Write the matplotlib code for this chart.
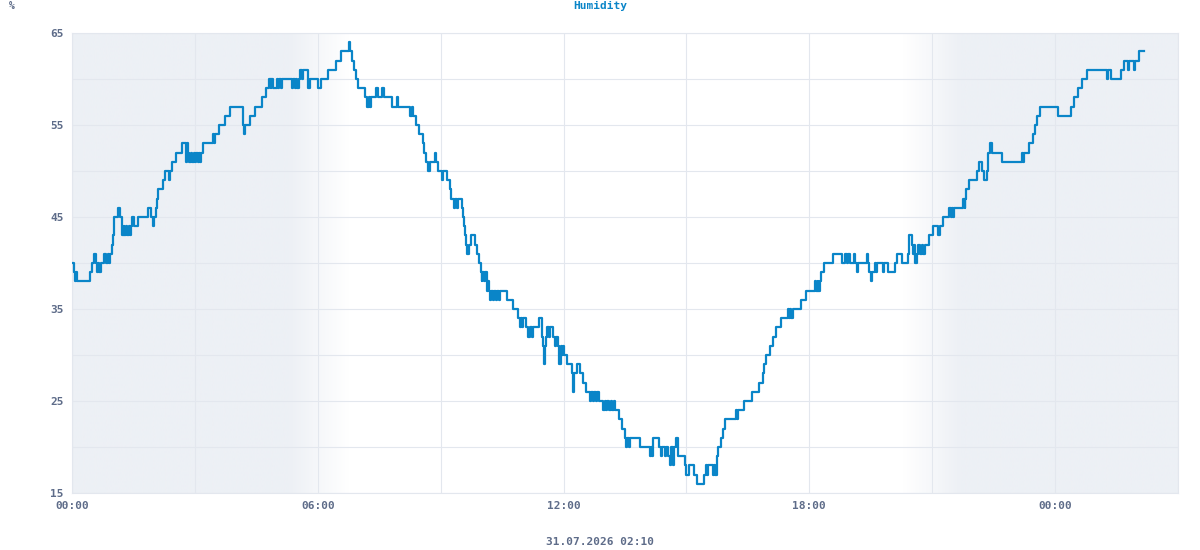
import numpy as np
import matplotlib
matplotlib.use("Agg")
import matplotlib.pyplot as plt
from matplotlib.colors import to_rgb

# ---- data (hours since 00:00, humidity %) ----
hours = [
    0.00, 0.04, 0.07, 0.09, 0.11, 0.44, 0.50, 0.53, 0.58, 0.60, 0.64, 0.66, 0.72, 0.79, 0.84, 0.87, 0.90, 0.93,
    0.97, 1.00, 1.02, 1.13, 1.18, 1.21, 1.23, 1.26, 1.28, 1.31, 1.34, 1.38, 1.41, 1.44, 1.47, 1.52, 1.62, 1.86,
    1.93, 1.98, 2.01, 2.04, 2.08, 2.11, 2.21, 2.27, 2.37, 2.40, 2.43, 2.55, 2.68, 2.78, 2.80, 2.82, 2.86, 2.90,
    2.93, 2.97, 3.00, 3.03, 3.07, 3.10, 3.13, 3.16, 3.21, 3.44, 3.47, 3.49, 3.60, 3.74, 3.86, 4.18, 4.20, 4.22,
    4.35, 4.47,
    4.65, 4.74, 4.82, 4.85, 4.87, 4.90, 5.00, 5.03, 5.06, 5.09, 5.12, 5.36, 5.40, 5.44, 5.47, 5.50, 5.53, 5.57,
    5.62, 5.64, 5.75, 5.77, 5.81, 6.01, 6.07, 6.26, 6.45, 6.56, 6.75, 6.79, 6.83, 6.88, 6.93, 6.99, 7.15, 7.21,
    7.24, 7.27, 7.30, 7.42, 7.47, 7.56, 7.62, 7.80, 7.93, 7.97, 8.25, 8.29, 8.33, 8.40, 8.47,
    8.58, 8.60, 8.64, 8.70, 8.74, 8.85, 8.89, 8.94, 9.03, 9.06, 9.16, 9.23, 9.25, 9.33, 9.36, 9.40, 9.43, 9.51,
    9.55, 9.57, 9.59, 9.61, 9.64, 9.70, 9.73, 9.84, 9.88, 9.94, 9.98, 10.00, 10.02, 10.06, 10.08, 10.12, 10.15,
    10.18, 10.21, 10.24, 10.28, 10.31, 10.35, 10.38, 10.42, 10.45, 10.63, 10.76, 10.90, 10.93, 10.96, 10.99,
    11.02, 11.08, 11.13, 11.17, 11.22, 11.25, 11.41, 11.47, 11.49, 11.52, 11.55, 11.57, 11.60, 11.64, 11.67,
    11.74, 11.78, 11.81, 11.87, 11.90, 11.93, 11.96, 11.99, 12.02, 12.08, 12.20, 12.23, 12.25, 12.32, 12.40,
    12.48, 12.54, 12.65, 12.68, 12.71, 12.75, 12.79, 12.82, 12.86,
    12.97, 13.00, 13.04, 13.07, 13.11, 13.15, 13.19, 13.22, 13.26, 13.36, 13.42, 13.50, 13.53, 13.56, 13.60,
    13.63, 13.87, 14.10, 14.13, 14.16, 14.19, 14.34, 14.38, 14.40, 14.48, 14.51, 14.55, 14.60, 14.62, 14.66,
    14.70, 14.75, 14.80, 14.97, 15.00, 15.06, 15.19, 15.25, 15.44, 15.48, 15.50, 15.53, 15.64, 15.67, 15.70,
    15.74, 15.78, 15.85, 15.90, 15.94, 16.20, 16.23, 16.27, 16.41, 16.61, 16.76, 16.86, 16.89, 16.94, 17.03,
    17.11, 17.19, 17.30, 17.49, 17.51, 17.54, 17.56, 17.61, 17.79, 17.91, 18.14, 18.17, 18.20, 18.22, 18.25,
    18.29, 18.36, 18.57,
    18.79, 18.87, 18.93, 18.95, 18.99, 19.08, 19.12, 19.16, 19.18, 19.40, 19.42, 19.46, 19.50, 19.53, 19.61,
    19.63, 19.65, 19.79, 19.83, 19.93, 20.08, 20.13, 20.26, 20.42, 20.44, 20.50, 20.53, 20.55, 20.58, 20.62,
    20.66, 20.70, 20.74, 20.78, 20.82, 20.91, 21.03, 21.15, 21.19, 21.26, 21.42, 21.45, 21.48, 21.51, 21.54,
    21.76, 21.79, 21.81, 21.83, 21.91, 22.09, 22.13, 22.21, 22.27, 22.33, 22.36, 22.40, 22.47, 22.70, 23.19,
    23.22, 23.25, 23.37, 23.45, 23.51, 23.55, 23.63, 24.08, 24.39, 24.45, 24.55, 24.65, 24.77, 25.26, 25.28,
    25.36, 25.61, 25.67, 25.78, 25.80, 25.92, 25.96, 26.06, 26.17,
]
humidity = [
    40, 39, 38, 39, 38, 39, 40, 41, 40, 39, 40, 39, 40, 41, 40, 41, 40, 41,
    42, 43, 45, 46, 45, 44, 43, 44, 43, 44, 43, 44, 43, 44, 45, 44, 45, 46,
    45, 44, 45, 46, 47, 48, 49, 50, 49, 50, 51, 52, 53, 51, 53, 52, 51, 52,
    51, 52, 51, 52, 51, 52, 51, 52, 53, 54, 53, 54, 55, 56, 57, 55, 54, 55,
    56, 57,
    58, 59, 60, 59, 60, 59, 60, 59, 60, 59, 60, 59, 60, 59, 60, 59, 60, 61,
    60, 61, 60, 59, 60, 59, 60, 61, 62, 63, 64, 63, 62, 61, 60, 59, 58, 57,
    58, 57, 58, 59, 58, 59, 58, 57, 58, 57, 56, 57, 56, 55, 54,
    53, 52, 51, 50, 51, 52, 51, 50, 49, 50, 49, 48, 47, 46, 47, 46, 47, 46,
    45, 44, 43, 42, 41, 42, 43, 42, 41, 40, 39, 38, 39, 38, 39, 37, 38,
    37, 36, 37, 36, 37, 36, 37, 36, 37, 36, 35, 34, 33, 34, 33,
    34, 33, 32, 33, 32, 33, 34, 32, 31, 29, 31, 32, 33, 32, 33,
    32, 31, 32, 31, 29, 31, 30, 31, 30, 29, 28, 26, 28, 29, 28,
    27, 26, 25, 26, 25, 26, 25, 26, 25,
    24, 25, 24, 25, 24, 25, 24, 25, 24, 23, 22, 21, 20, 21, 20,
    21, 20, 19, 20, 19, 21, 20, 19, 20, 19, 20, 19, 18, 20, 18,
    20, 21, 19, 18, 17, 18, 17, 16, 17, 18, 17, 18, 17, 18, 17,
    19, 20, 21, 22, 23, 24, 23, 24, 25, 26, 27, 28, 29, 30, 31,
    32, 33, 34, 35, 34, 35, 34, 35, 36, 37, 38, 37, 38, 37, 38,
    39, 40, 41,
    40, 41, 40, 41, 40, 41, 40, 39, 40, 41, 40, 39, 38, 39, 40,
    39, 40, 39, 40, 39, 40, 41, 40, 41, 43, 42, 41, 42, 40, 41,
    42, 41, 42, 41, 42, 43, 44, 43, 44, 45, 46, 45, 46, 45, 46,
    47, 46, 47, 48, 49, 50, 51, 50, 49, 50, 52, 53, 52, 51, 52,
    51, 52, 53, 54, 55, 56, 57, 56, 57, 58, 59, 60, 61, 60, 61,
    60, 61, 62, 61, 62, 61, 62, 63, 63,
]

x_ticks = [0, 6, 12, 18, 24]
x_tick_labels = ["00:00", "06:00", "12:00", "18:00", "00:00"]
y_ticks = [15, 25, 35, 45, 55, 65]
title = "Humidity"
unit = "%"
timestamp = "31.07.2026 02:10"

# ---- styling ----
LINE = "#0a85c8"
GRID = "#e3e7ee"
SHADE = "#edf0f5"
LABEL = "#5e6c89"
FONT = ["DejaVu Sans Mono"]

fig = plt.figure(figsize=(12, 5.5), dpi=100)
ax = fig.add_axes([72 / 1200, 57 / 550, (1178 - 72) / 1200, 460 / 550])

x0, x1 = 0, 27
y0, y1 = 15, 65

# night shading gradient
xs = np.linspace(x0, x1, 1200)
w = np.ones_like(xs)
w = np.where(xs < 5.3, 1.0, w)
w = np.where((xs >= 5.3) & (xs < 6.75), 1 - (xs - 5.3) / 1.45, w)
w = np.where((xs >= 6.75) & (xs < 20.3), 0.0, w)
w = np.where((xs >= 20.3) & (xs < 21.7), (xs - 20.3) / 1.4, w)
w = np.clip(w, 0, 1)
c_sh = np.array(to_rgb(SHADE))
c_wh = np.array([1.0, 1.0, 1.0])
img = c_wh[None, None, :] * (1 - w[None, :, None]) + c_sh[None, None, :] * w[None, :, None]
ax.imshow(img, extent=[x0, x1, y0, y1], aspect="auto", zorder=0, interpolation="bilinear")

ax.step(hours, humidity, where="post", color=LINE, lw=1.6, zorder=3)

ax.set_xlim(x0, x1)
ax.set_ylim(y0, y1)

ax.set_xticks(np.arange(0, 27.1, 3), minor=False)
ax.set_xticklabels([x_tick_labels[x_ticks.index(int(t))] if int(t) in x_ticks else "" for t in np.arange(0, 27.1, 3)])
ax.set_yticks(np.arange(15, 65.1, 5))
ax.set_yticklabels([str(int(v)) if int(v) in y_ticks else "" for v in np.arange(15, 65.1, 5)])
ax.grid(True, color=GRID, lw=0.8, zorder=1)
ax.set_axisbelow(False)
for gl in ax.get_xgridlines() + ax.get_ygridlines():
    gl.set_zorder(1)
ax.tick_params(length=0, pad=6, labelcolor=LABEL, labelsize=8)
for lab in ax.get_xticklabels() + ax.get_yticklabels():
    lab.set_fontfamily(FONT)
    lab.set_fontweight("bold")
for s in ax.spines.values():
    s.set_color(GRID)
    s.set_linewidth(0.8)
ax.tick_params(axis="y", pad=6)
ax.tick_params(axis="x", pad=6)

fig.text(600 / 1200, 1 - 6 / 550, title, ha="center", va="center", color=LINE,
         fontsize=8, fontweight="bold", family=FONT)
fig.text(12 / 1200, 1 - 6 / 550, unit, ha="center", va="center", color=LABEL,
         fontsize=7, fontweight="bold", family=FONT)
fig.text(600 / 1200, 1 - 542 / 550, timestamp, ha="center", va="center", color=LABEL,
         fontsize=8, fontweight="bold", family=FONT)

fig.savefig("out.png", dpi=100)
